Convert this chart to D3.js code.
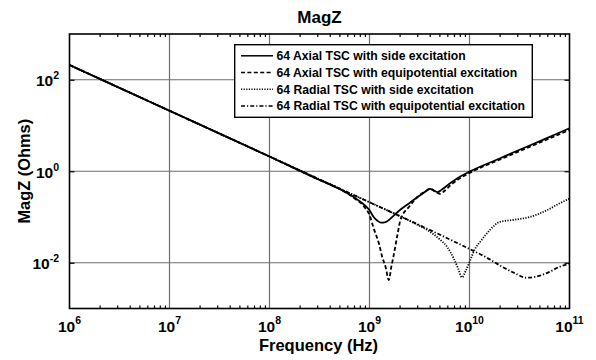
<!DOCTYPE html>
<html>
<head>
<meta charset="utf-8">
<script src="https://cdn.jsdelivr.net/npm/d3@7"></script>
<style>
  body { margin: 0; background: #fff; }
  text { font-family: "Liberation Sans", Arial, sans-serif; font-weight: bold; fill: #000; }
</style>
</head>
<body>
<div id="chart"></div>
<script>
// chart values
const xDecades = [1e6, 1e7, 1e8, 1e9, 1e10, 1e11];
const xExponents = ['6', '7', '8', '9', '10', '11'];
const yDecades = [1e-2, 1e0, 1e2];
const yExponents = ['-2', '0', '2'];

const freqAxialSide = [1e6, 1e7, 1e8, 3e8, 5e8, 7e8, 9e8, 1e9, 1.1e9, 1.2e9, 1.3e9, 1.45e9, 1.6e9, 2e9, 2.5e9, 3e9, 3.5e9, 4e9, 4.4e9, 4.8e9, 5.3e9, 6.5e9, 8e9, 1e10, 2e10, 3e10, 5e10, 7e10, 1e11];
const zAxialSide = [210, 21, 2.1, 0.68, 0.41, 0.27, 0.18, 0.14, 0.1, 0.083, 0.075, 0.077, 0.09, 0.14, 0.2, 0.27, 0.34, 0.41, 0.38, 0.35, 0.4, 0.56, 0.76, 0.98, 1.9, 2.8, 4.5, 6.2, 8.7];

const freqAxialEquip = [1e6, 1e7, 1e8, 3e8, 5e8, 7e8, 9e8, 1e9, 1.1e9, 1.25e9, 1.34e9, 1.45e9, 1.56e9, 1.65e9, 1.75e9, 1.9e9, 2.04e9, 2.5e9, 3e9, 3.6e9, 4.1e9, 4.6e9, 5.1e9, 5.6e9, 6.5e9, 8e9, 1e10, 2e10, 5e10, 1e11];
const zAxialEquip = [210, 21, 2.1, 0.68, 0.41, 0.26, 0.16, 0.11, 0.057, 0.025, 0.0134, 0.008, 0.0042, 0.008, 0.015, 0.04, 0.086, 0.17, 0.27, 0.36, 0.41, 0.35, 0.32, 0.37, 0.5, 0.7, 0.92, 1.8, 4.2, 8.0];

const freqRadialSide = [1e6, 1e7, 1e8, 1e9, 2e9, 3e9, 4e9, 5e9, 6e9, 7e9, 7.7e9, 8.4e9, 9.2e9, 1.02e10, 1.12e10, 1.3e10, 1.6e10, 2e10, 2.8e10, 4e10, 6e10, 8e10, 1e11];
const zRadialSide = [210, 21, 2.1, 0.21, 0.105, 0.068, 0.048, 0.033, 0.022, 0.012, 0.0075, 0.0048, 0.0068, 0.0115, 0.019, 0.03, 0.052, 0.078, 0.087, 0.1, 0.142, 0.2, 0.25];

const freqRadialEquip = [1e6, 1e7, 1e8, 1e9, 3e9, 1e10, 1.5e10, 2e10, 2.8e10, 3.7e10, 4.5e10, 6e10, 8e10, 1e11];
const zRadialEquip = [210, 21, 2.1, 0.21, 0.07, 0.02, 0.0128, 0.0088, 0.006, 0.0047, 0.0049, 0.006, 0.0082, 0.0094];

const seriesNames = [
  '64 Axial TSC with side excitation',
  '64 Axial TSC with equipotential excitation',
  '64 Radial TSC with side excitation',
  '64 Radial TSC with equipotential excitation'
];

const margin = { top: 34, bottom: 51.5, left: 69.5, right: 26.5 };
const W = 596, H = 360;
const width = W - margin.left - margin.right;
const height = H - margin.top - margin.bottom;

const svg = d3.select('#chart').append('svg')
  .attr('width', W)
  .attr('height', H);

const x = d3.scaleLog().domain([1e6, 1e11]).range([0, width]);
const y = d3.scaleLog().domain([1e-3, 1e3]).range([height, 0]);

const g = svg.append('g')
  .attr('transform', 'translate(' + margin.left + ',' + margin.top + ')');

// grid
g.append('g').selectAll('line.vgrid')
  .data(xDecades.slice(1, -1))
  .enter().append('line')
  .attr('x1', d => x(d)).attr('x2', d => x(d))
  .attr('y1', 0).attr('y2', height)
  .attr('stroke', '#6e6e6e').attr('stroke-width', 1.2);

g.append('g').selectAll('line.hgrid')
  .data(yDecades)
  .enter().append('line')
  .attr('x1', 0).attr('x2', width)
  .attr('y1', d => y(d)).attr('y2', d => y(d))
  .attr('stroke', '#6e6e6e').attr('stroke-width', 1.2);

// minor ticks on x (inside, top and bottom)
const minorX = [];
xDecades.slice(0, -1).forEach(d => {
  for (let k = 2; k < 10; k++) minorX.push(d * k);
});

g.append('g')
  .attr('transform', 'translate(0,' + height + ')')
  .call(d3.axisBottom(x).tickValues(minorX).tickSize(-3).tickFormat(''))
  .call(a => a.select('.domain').remove());
g.append('g')
  .call(d3.axisTop(x).tickValues(minorX).tickSize(-3).tickFormat(''))
  .call(a => a.select('.domain').remove());
g.append('g')
  .call(d3.axisLeft(y).tickValues(yDecades).tickSize(-5).tickFormat(''))
  .call(a => a.select('.domain').remove());
g.append('g')
  .attr('transform', 'translate(' + width + ',0)')
  .call(d3.axisRight(y).tickValues(yDecades).tickSize(-5).tickFormat(''))
  .call(a => a.select('.domain').remove());
g.selectAll('.tick line').attr('stroke', '#000').attr('stroke-width', 1.2);

// curves
const line = d3.line()
  .x(d => x(d[0]))
  .y(d => y(d[1]))
  .curve(d3.curveMonotoneX);

const zip = (fs, zs) => fs.map((f, i) => [f, zs[i]]);

const series = [
  { pts: zip(freqRadialEquip, zRadialEquip), dash: '4,2,1.2,2' },
  { pts: zip(freqRadialSide, zRadialSide), dash: '1.2,1.4' },
  { pts: zip(freqAxialEquip, zAxialEquip), dash: '4,2.4' },
  { pts: zip(freqAxialSide, zAxialSide), dash: null }
];

g.append('g').selectAll('path.curve')
  .data(series)
  .enter().append('path')
  .attr('class', 'curve')
  .attr('d', d => line(d.pts))
  .attr('fill', 'none')
  .attr('stroke', '#000')
  .attr('stroke-width', 1.8)
  .attr('stroke-dasharray', d => d.dash);

// frame
g.append('rect')
  .attr('width', width).attr('height', height)
  .attr('fill', 'none').attr('stroke', '#000').attr('stroke-width', 1.6);

// tick labels
const xl = g.append('g').selectAll('text')
  .data(xDecades)
  .enter().append('text')
  .attr('x', d => x(d))
  .attr('y', height + 23)
  .attr('text-anchor', 'middle')
  .style('font-size', '15.5px');
xl.append('tspan').text('10');
xl.append('tspan').attr('dy', -8).style('font-size', '10.5px').text((d, i) => xExponents[i]);

const yl = g.append('g').selectAll('text')
  .data(yDecades)
  .enter().append('text')
  .attr('x', -10.5)
  .attr('y', d => y(d) + 6.5)
  .attr('text-anchor', 'end')
  .style('font-size', '15.5px');
yl.append('tspan').text('10');
yl.append('tspan').attr('dy', -7).style('font-size', '10.5px').text((d, i) => yExponents[i]);

// titles
svg.append('text')
  .attr('x', margin.left + width / 2)
  .attr('y', 22.5)
  .attr('text-anchor', 'middle')
  .style('font-size', '17px')
  .text('MagZ');

svg.append('text')
  .attr('x', margin.left + width / 2 - 1)
  .attr('y', 351)
  .attr('text-anchor', 'middle')
  .style('font-size', '16.5px')
  .text('Frequency (Hz)');

svg.append('text')
  .attr('transform', 'translate(30,' + (margin.top + y(1) + 0) + ') rotate(-90)')
  .attr('text-anchor', 'middle')
  .style('font-size', '16.4px')
  .text('MagZ (Ohms)');

// legend
const legend = svg.append('g');
legend.append('rect')
  .attr('x', 234.7).attr('y', 44.7)
  .attr('width', 297.6).attr('height', 72.6)
  .attr('fill', '#fff').attr('stroke', '#000').attr('stroke-width', 1.4);

const legendDash = [null, '4,2.4', '1.2,1.4', '4,2,1.2,2'];
const rows = legend.selectAll('g.row')
  .data(seriesNames)
  .enter().append('g')
  .attr('transform', (d, i) => 'translate(0,' + (55.8 + i * 16.7) + ')');
rows.append('line')
  .attr('x1', 241).attr('x2', 273)
  .attr('stroke', '#000').attr('stroke-width', 1.5)
  .attr('stroke-dasharray', (d, i) => legendDash[i]);
rows.append('text')
  .attr('x', 276.5).attr('y', 4.3)
  .style('font-size', '12.2px')
  .text(d => d);
</script>
</body>
</html>
